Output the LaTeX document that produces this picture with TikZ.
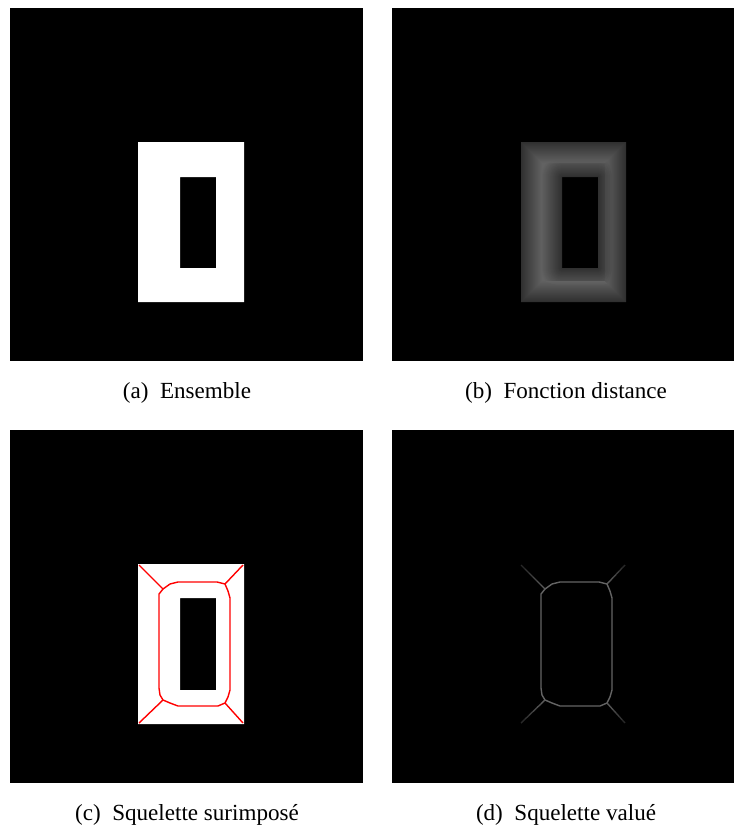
\documentclass[tikz,border=0pt]{standalone}
\usepackage{fontspec}
\setmainfont{Liberation Serif}
\usetikzlibrary{calc}
\begin{document}
\begin{tikzpicture}[x=0.75pt,y=-0.75pt,
  panel/.style={fill=black},
  captxt/.style={anchor=base,inner sep=0pt,font=\fontsize{17.3}{21}\selectfont},
  skelred/.style={draw=red,line width=1.05pt,line join=round},
  skelgray/.style={draw={rgb,255:red,100;green,100;blue,100},line width=1.05pt,line join=round}]
\useasboundingbox (0,0) rectangle (734,825);
\fill[white] (0,0) rectangle (734,825);
% panels
\fill[panel] (10,8) rectangle (363,361);
\fill[panel] (392,8) rectangle (734,361);
\fill[panel] (10,430) rectangle (363,783);
\fill[panel] (392,430) rectangle (734,783);
% (a) set
\fill[white,even odd rule] (138,142) rectangle (244,302) (180,177) rectangle (216,268);
% (b) distance function
\foreach \k in {0,0.5,...,21}{
  \pgfmathsetmacro\g{(48+2.4*\k)/255}
  \definecolor{dcol}{gray}{\g}
  \begin{scope}
    \clip (521+\k,142+\k) rectangle (626-\k,302-\k);
    \fill[dcol,even odd rule] (521+\k,142+\k) rectangle (626-\k,302-\k)
      [rounded corners=\k*0.75pt] (562-\k,177-\k) rectangle (598+\k,268+\k);
  \end{scope}
}
% (c) skeleton superimposed
\fill[white,even odd rule] (138,564) rectangle (244,724) (180,598) rectangle (216,690);
\draw[skelred] (159,598) -- (159,594) -- (163,589) -- (170,584) -- (178,582) -- (217,582)
  -- (225,584) -- (228,591) -- (230,598) -- (230,690) -- (228,697) -- (225,703)
  -- (218,706) -- (178,706) -- (170,703) -- (163,700) -- (160,695) -- (159,688) -- cycle;
\draw[skelred] (139,565) -- (163,589);
\draw[skelred] (243,565) -- (225,584);
\draw[skelred] (139,723) -- (163,700);
\draw[skelred] (243,723) -- (225,703);
% (d) valued skeleton
\begin{scope}[shift={(382,0)}]
\draw[skelgray] (159,598) -- (159,594) -- (163,589) -- (170,584) -- (178,582) -- (217,582)
  -- (225,584) -- (228,591) -- (230,598) -- (230,690) -- (228,697) -- (225,703)
  -- (218,706) -- (178,706) -- (170,703) -- (163,700) -- (160,695) -- (159,688) -- cycle;
\coordinate (dTL) at (139,565); \coordinate (jTL) at (163,589);
\coordinate (dTR) at (243,565); \coordinate (jTR) at (225,584);
\coordinate (dBL) at (139,723); \coordinate (jBL) at (163,700);
\coordinate (dBR) at (243,723); \coordinate (jBR) at (225,703);
\foreach \c/\j in {dTL/jTL,dTR/jTR,dBL/jBL,dBR/jBR}{
  \foreach \i in {0,...,5}{
    \pgfmathsetmacro\ga{(40+10*\i)/255}
    \pgfmathsetmacro\ta{\i/6}
    \pgfmathsetmacro\tb{(\i+1)/6}
    \definecolor{scol}{gray}{\ga}
    \draw[scol,line width=1.05pt] ($(\c)!\ta!(\j)$) -- ($(\c)!\tb!(\j)$);
  }
}
\end{scope}
% captions
\node[captxt] (capa) at (187,398) {(a)\hspace{0.5em}Ensemble};
\node[captxt] (capb) at (566,398) {(b)\hspace{0.5em}Fonction distance};
\node[captxt] (capc) at (187,820) {(c)\hspace{0.5em}Squelette surimposé};
\node[captxt] (capd) at (566,820) {(d)\hspace{0.5em}Squelette valué};
\end{tikzpicture}
\end{document}
